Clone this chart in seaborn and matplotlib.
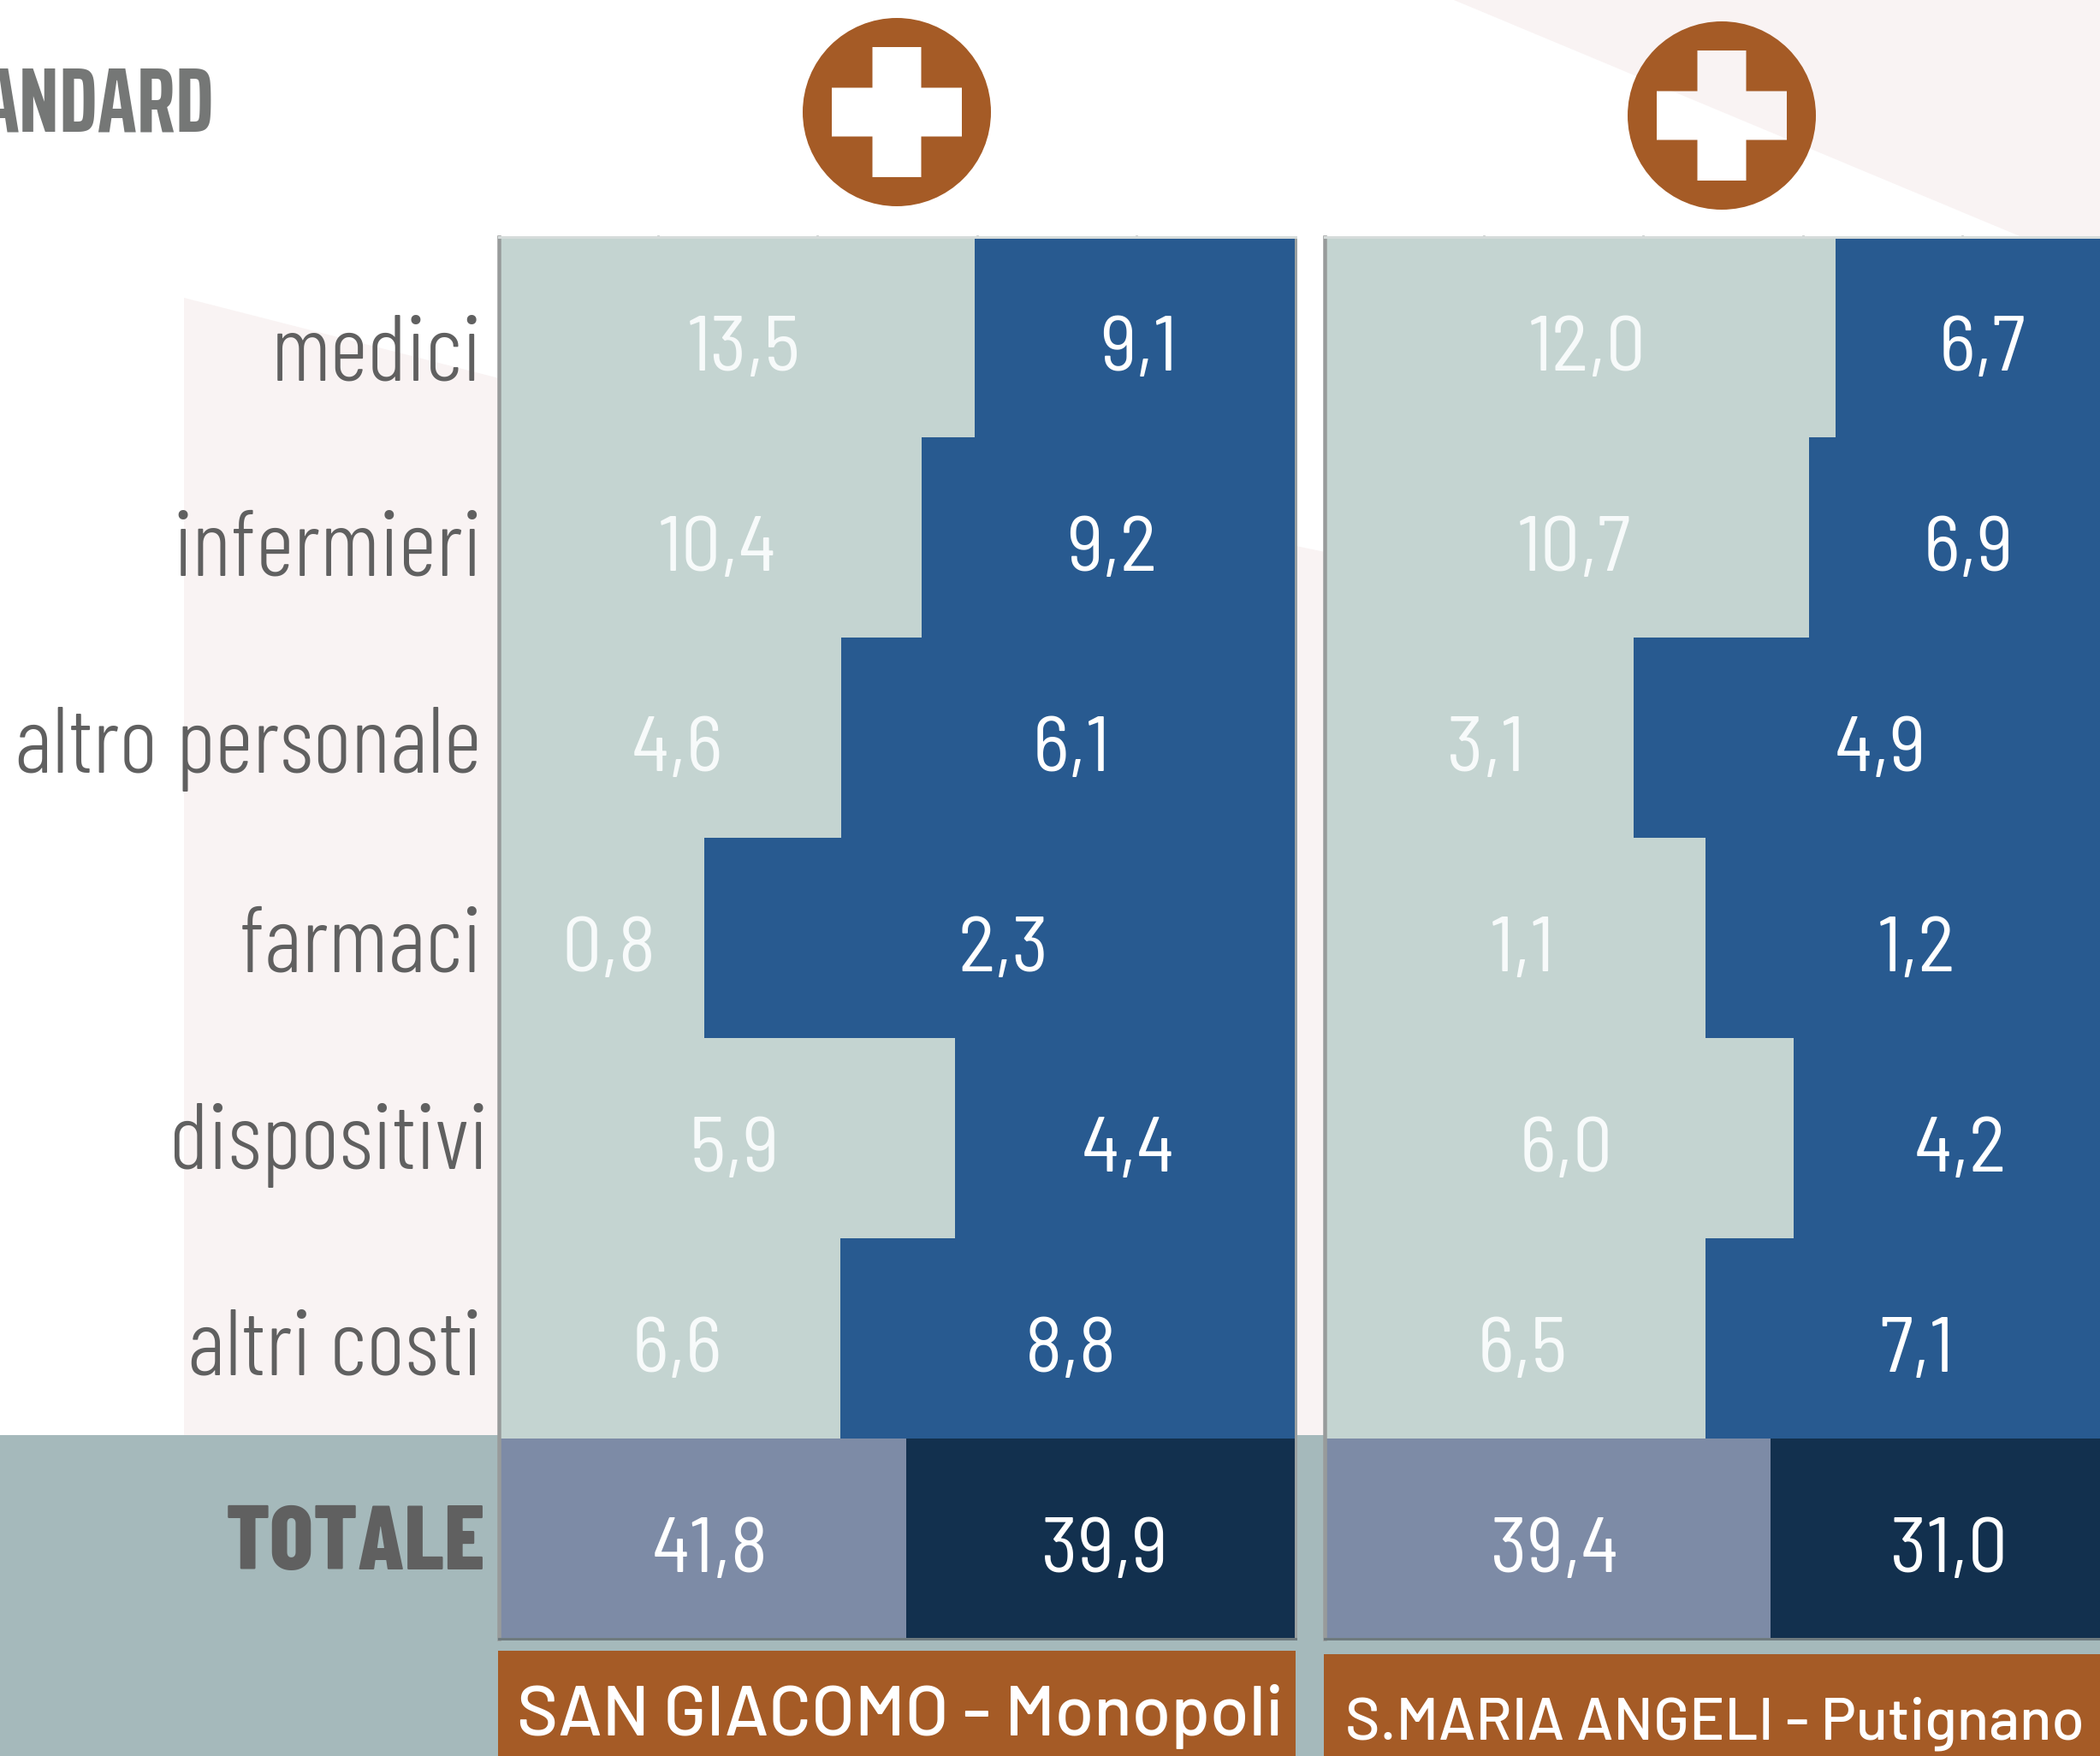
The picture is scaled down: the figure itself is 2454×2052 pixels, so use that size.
import numpy as np
import pandas as pd
import matplotlib
matplotlib.use("Agg")
import matplotlib.pyplot as plt
import matplotlib.font_manager as fm
import seaborn as sns
from matplotlib.patches import Polygon, Rectangle, PathPatch
from matplotlib.path import Path
from matplotlib.transforms import ScaledTranslation

# ---- data ----
categories = ["medici", "infermieri", "altro personale", "farmaci", "dispositivi", "altri costi", "TOTALE"]
giacomo_light = [13.5, 10.4, 4.6, 0.8, 5.9, 6.6, 41.8]
giacomo_dark = [9.1, 9.2, 6.1, 2.3, 4.4, 8.8, 39.9]
maria_light = [12.0, 10.7, 3.1, 1.1, 6.0, 6.5, 39.4]
maria_dark = [6.7, 6.9, 4.9, 1.2, 4.2, 7.1, 31.0]
hospital_names = ["SAN GIACOMO - Monopoli", "S.MARIA ANGELI - Putignano"]
header_text = "ANDARD"

C_LIGHT, C_DARK = "#C4D4D1", "#285A90"
C_TOT_LIGHT, C_TOT_DARK = "#7D8BA6", "#12304E"
BROWN, TEAL, PINK = "#A55B26", "#A5B9BB", "#F9F3F3"
LABEL_GREY = "#606060"

sns.set_theme(style="white")


def font(filename, size_px, fallback_weight="normal"):
    """Condensed face looked up by file name, plain sans if it is absent."""
    for f in fm.fontManager.ttflist:
        if f.fname.split("/")[-1] == filename:
            return fm.FontProperties(fname=f.fname, size=size_px * 72 / DPI)
    return fm.FontProperties(family="DejaVu Sans", weight=fallback_weight, size=size_px * 72 / DPI)


W, H = 2454, 2052
DPI = 100
fig = plt.figure(figsize=(W / DPI, H / DPI), dpi=DPI, facecolor="white")


def px(v):
    return v * 72 / DPI


# ---- background layer in pixel coordinates ----
bg = fig.add_axes([0, 0, 1, 1], zorder=0)
bg.set_xlim(0, W)
bg.set_ylim(H, 0)
bg.axis("off")
bg.add_patch(Polygon([(215, 348), (583, 442), (1548, 645), (1548, 1677), (215, 1677)], fc=PINK, ec="none"))
bg.add_patch(Polygon([(1699, 0), (W, 0), (W, 315), (2358, 275)], fc=PINK, ec="none"))
bg.add_patch(Rectangle((0, 1677), W, H - 1677, fc=TEAL, ec="none"))
bg.add_patch(Rectangle((582, 1929), 932, H - 1929, fc=BROWN, ec="none"))
bg.add_patch(Rectangle((1547, 1933), W - 1547, H - 1933, fc=BROWN, ec="none"))


def badge(cx, cy, r, arm_w, arm_l, half_w):
    a, b = arm_w / 2, arm_l
    cross = [(cx - a, cy - b), (cx + a, cy - b), (cx + a, cy - a), (cx + half_w, cy - a),
             (cx + half_w, cy + a), (cx + a, cy + a), (cx + a, cy + b), (cx - a, cy + b),
             (cx - a, cy + a), (cx - half_w, cy + a), (cx - half_w, cy - a), (cx - a, cy - a),
             (cx - a, cy - b)]
    circle = Path.circle((cx, cy), r)
    path = Path.make_compound_path(circle, Path(cross[::-1], closed=True))
    bg.add_patch(PathPatch(path, fc=BROWN, ec="none"))


badge(1048, 131, 110, 57, 76, 76)
badge(2012, 135, 110, 57, 76, 76)

bg.text(250, 153, header_text, ha="right", va="baseline",
        fontproperties=font("SairaExtraCondensed-Bold.ttf", 108, "bold"), color="#757776")
bg.text(604, 2028, hospital_names[0], ha="left", va="baseline",
        fontproperties=font("Barlow-Medium.ttf", 82), color="white")
bg.text(1572, 2033, hospital_names[1], ha="left", va="baseline",
        fontproperties=font("Barlow-Medium.ttf", 69), color="white")

# ---- panels ----
light_palette = {c: (C_TOT_LIGHT if c == "TOTALE" else C_LIGHT) for c in categories}
dark_palette = {c: (C_TOT_DARK if c == "TOTALE" else C_DARK) for c in categories}
# per-label nudges, pixels (dx, dy down)
label_nudge = [(2, 50), (2, 44), (1, 41), (2, 39), (9, 36), (2, 42), (6, 36)]
VALUE_FONT = font("BarlowSemiCondensed-Regular.ttf", 92)
LABEL_FONT = font("BarlowCondensed-Light.ttf", 109)
TOTAL_FONT = font("BarlowCondensed-ExtraBold.ttf", 107, "bold")


def panel(left_px, light, dark, with_labels):
    ax = fig.add_axes([left_px / W, (H - 1915) / H, 931 / W, (1915 - 277) / H], zorder=2)
    ax.patch.set_alpha(0)
    light = np.array(light)
    dark = np.array(dark)
    share = light / (light + dark) * 100
    df = pd.DataFrame({"cat": categories, "share": share, "full": 100.0})
    sns.barplot(data=df, y="cat", x="full", hue="cat", palette=dark_palette, order=categories,
                hue_order=categories, dodge=False, width=1, saturation=1, linewidth=0,
                legend=False, ax=ax)
    sns.barplot(data=df, y="cat", x="share", hue="cat", palette=light_palette, order=categories,
                hue_order=categories, dodge=False, width=1, saturation=1, linewidth=0,
                legend=False, ax=ax)
    ax.set_xlim(0, 100)
    ax.set_ylim(6.5, -0.5)
    ax.set_xlabel("")
    ax.set_ylabel("")

    for i, (s, l, d) in enumerate(zip(share, light, dark)):
        y = i + 0.166
        ax.text(s / 2 + 0.9, y, f"{l:.1f}".replace(".", ","), ha="center", va="baseline",
                fontproperties=VALUE_FONT, color="#F7FAFA" if i < 6 else "white", zorder=5)
        ax.text((s + 100) / 2 + 0.4, y, f"{d:.1f}".replace(".", ","), ha="center", va="baseline",
                fontproperties=VALUE_FONT, color="white", zorder=5)

    ax.xaxis.tick_top()
    ax.set_xticks([20, 40, 60, 80])
    ax.set_xticklabels([])
    ax.tick_params(axis="x", length=1.5, width=2, color="#9EA5A5", pad=0)
    for name, col, lw in [("left", "#989B9B", 4.5), ("right", "#9AA0A0", 3),
                          ("top", "#D5DBDA", 3), ("bottom", "#6E7A7E", 3)]:
        ax.spines[name].set_visible(True)
        ax.spines[name].set_color(col)
        ax.spines[name].set_linewidth(px(lw))

    if with_labels:
        ax.tick_params(axis="y", length=0, pad=px(22))
        for lab, (dx, dy), c in zip(ax.get_yticklabels(), label_nudge, categories):
            lab.set_fontproperties(TOTAL_FONT if c == "TOTALE" else LABEL_FONT)
            lab.set_va("baseline")
            lab.set_ha("right")
            lab.set_color(LABEL_GREY)
            lab.set_transform(lab.get_transform() + ScaledTranslation(dx / DPI, -dy / DPI, fig.dpi_scale_trans))
    else:
        ax.tick_params(axis="y", length=0, labelleft=False)
    return ax


panel(583, giacomo_light, giacomo_dark, True)
panel(1548, maria_light, maria_dark, False)

fig.savefig("out.png", dpi=DPI, facecolor="white")
